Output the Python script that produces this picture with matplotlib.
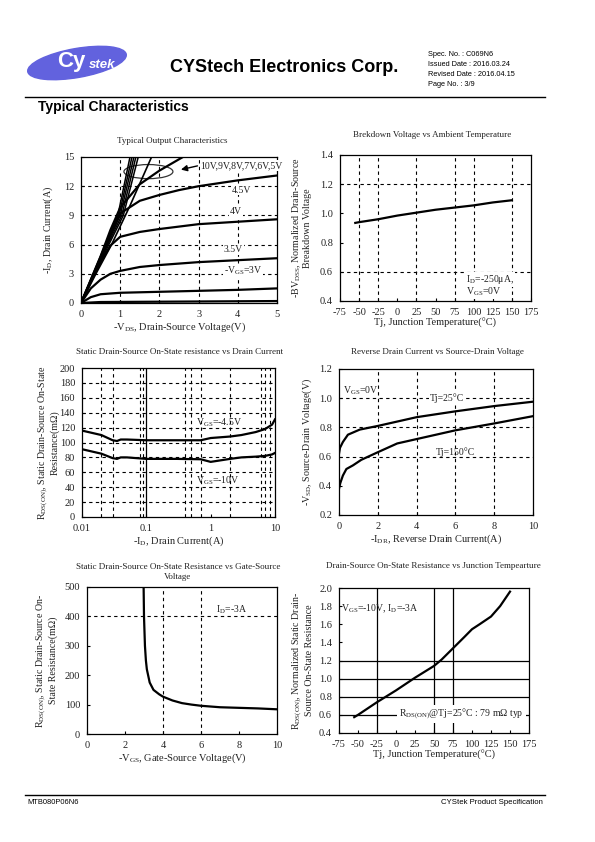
import matplotlib
matplotlib.use("Agg")
import matplotlib.pyplot as plt
from matplotlib.patches import Ellipse

# ---------------- data ----------------
# Typical Output Characteristics (-VDS vs -ID), one list per gate curve
out_fan_x = [[0, 0.31, 0.62, 0.94, 1.25],
             [0, 0.32, 0.64, 0.97, 1.30],
             [0, 0.33, 0.66, 1.00, 1.35],
             [0, 0.34, 0.68, 1.04, 1.40],
             [0, 0.35, 0.71, 1.08, 1.46]]
out_fan_y = [0, 3, 6, 9, 15]
out_6v_x = [0, 0.38, 0.78, 1.25, 1.80]
out_6v_y = [0, 3, 6, 10, 15]
out_5v_x = [0, 0.25, 0.5, 0.75, 1.0, 1.5, 2.0, 2.6]
out_5v_y = [0, 2.4, 4.8, 7.5, 9.8, 12.2, 13.6, 15.0]
out_45v_x = [0, 0.25, 0.5, 0.75, 1.0, 1.5, 2.0, 2.5, 3.0, 4.0, 5.0]
out_45v_y = [0, 2.3, 4.6, 7.1, 9.2, 10.5, 11.1, 11.6, 12.0, 12.6, 13.1]
out_4v_x = [0, 0.25, 0.5, 0.75, 1.0, 1.5, 2.0, 3.0, 4.0, 5.0]
out_4v_y = [0, 2.2, 4.2, 5.9, 6.8, 7.3, 7.6, 8.1, 8.35, 8.6]
out_35v_x = [0, 0.25, 0.5, 0.75, 1.0, 1.5, 2.0, 3.0, 4.0, 5.0]
out_35v_y = [0, 1.5, 2.4, 3.0, 3.3, 3.7, 3.9, 4.2, 4.4, 4.6]
out_3v_x = [0, 0.25, 0.5, 1.0, 2.0, 3.0, 4.0, 5.0]
out_3v_y = [0, 0.6, 0.9, 1.05, 1.15, 1.25, 1.35, 1.5]
out_25v_x = [0, 0.5, 5.0]
out_25v_y = [0, 0.1, 0.2]

# Breakdown voltage vs temperature
bv_t = [-55, -50, -25, 0, 25, 50, 75, 100, 125, 150]
bv_v = [0.935, 0.94, 0.96, 0.985, 1.005, 1.025, 1.04, 1.055, 1.075, 1.09]

# RDS(on) vs drain current
rid_i = [0.01, 0.02, 0.03, 0.035, 0.04, 0.05, 0.1, 0.3, 0.7, 1.0, 2.0, 3.0, 5.0, 7.0, 9.0, 10.0]
rid_45v = [116, 110, 103, 102, 104, 104, 103, 103, 103, 106, 108, 110, 114, 118, 124, 131]
rid_10v = [91, 85, 79, 78, 80, 80, 78, 78, 77.5, 74, 78, 80, 81, 82, 84, 86]
rid_vgrid = [0.02, 0.03, 0.08, 0.09, 0.4, 0.5, 0.7, 2, 6, 7, 8.5]

# Reverse drain current vs source-drain voltage
sd_i25 = [0, 0.05, 0.2, 0.46, 1.07, 2, 4, 6, 8, 10]
sd_v25 = [0.62, 0.66, 0.70, 0.75, 0.785, 0.81, 0.87, 0.91, 0.946, 0.976]
sd_i150 = [0, 0.07, 0.2, 0.38, 0.72, 1.15, 2, 3, 4, 6, 8, 10]
sd_v150 = [0.38, 0.42, 0.47, 0.515, 0.54, 0.578, 0.63, 0.69, 0.72, 0.78, 0.827, 0.877]

# RDS(on) vs gate voltage
rvg_v = [2.98, 3.0, 3.05, 3.1, 3.15, 3.3, 3.5, 3.8, 4.0, 4.5, 5.0, 5.5, 6.0, 7.0, 8.0, 9.0, 10.0]
rvg_r = [500, 400, 300, 250, 220, 175, 150, 135, 127, 114, 105, 100, 96, 91, 89, 87, 84]

# Normalized RDS(on) vs temperature
rt_t = [-55, -50, -25, 0, 25, 50, 60, 75, 90, 100, 110, 125, 137, 150]
rt_r = [0.575, 0.60, 0.74, 0.87, 1.01, 1.14, 1.21, 1.335, 1.46, 1.545, 1.60, 1.685, 1.80, 1.96]

W, H = 595, 842
SERIF = "Liberation Serif"
SANS = "Liberation Sans"
TXT = "#222222"

plt.rcParams.update({
    "font.family": SERIF,
    "mathtext.fontset": "custom",
    "mathtext.rm": SERIF,
    "mathtext.default": "regular",
    "axes.unicode_minus": False,
    "font.size": 7.5,
})

fig = plt.figure(figsize=(W / 100, H / 100), dpi=100)

# background axes in page pixel units for header / footer / titles
bg = fig.add_axes([0, 0, 1, 1])
bg.set_xlim(0, W)
bg.set_ylim(H, 0)
bg.axis("off")
bg.set_zorder(-1)

bg.add_patch(Ellipse((77, 63), 100, 29, angle=-10, color="#6262de"))
bg.text(57, 62, "Cy", color="white", fontsize=16, fontweight="bold", family=SANS,
        ha="left", va="center")
bg.text(89, 65, "stek", color="white", fontsize=9.5, fontweight="bold", style="italic",
        family=SANS, ha="left", va="center")
bg.text(170, 67, "CYStech Electronics Corp.", fontsize=13, fontweight="bold", family=SANS,
        ha="left", va="center")
for i, s in enumerate(["Spec. No. : C069N6", "Issued Date : 2016.03.24",
                       "Revised Date : 2016.04.15", "Page No. : 3/9"]):
    bg.text(428, 55 + i * 9.7, s, fontsize=5.3, family=SANS, ha="left", va="center")
bg.plot([25, 545], [97, 97], color="black", lw=1)
bg.text(38, 107, "Typical Characteristics", fontsize=10, fontweight="bold", family=SANS,
        ha="left", va="center")
bg.plot([25, 545], [795, 795], color="black", lw=1)
bg.text(27, 803, "MTB080P06N6", fontsize=5.4, family=SANS, ha="left", va="center")
bg.text(543, 803, "CYStek Product Specification", fontsize=5.6, family=SANS,
        ha="right", va="center")

titles = [
    (172, 141, "Typical Output Characteristics"),
    (432, 135, "Brekdown Voltage vs Ambient Temperature"),
    (180, 352, "Static Drain-Source On-State resistance vs Drain Current"),
    (437, 352, "Reverse Drain Current vs Source-Drain Voltage"),
    (178, 572, "Static Drain-Source On-State Resistance vs Gate-Source\nVoltage"),
    (433, 566, "Drain-Source On-State Resistance vs Junction Tempearture"),
]
for x, y, s in titles:
    bg.text(x, y, s, fontsize=6.5, color=TXT, ha="center", va="center", linespacing=1.4)


def page_axes(x0, y0, x1, y1):
    ax = fig.add_axes([x0 / W, 1 - y1 / H, (x1 - x0) / W, (y1 - y0) / H])
    for sp in ax.spines.values():
        sp.set_color("black")
        sp.set_linewidth(0.9)
    ax.tick_params(direction="in", length=2.5, width=0.8, labelsize=7.5,
                   labelcolor=TXT, pad=5)
    return ax


def ylab(ax, s, pad=3):
    ax.set_ylabel(s, fontsize=7.2, color=TXT, labelpad=pad, linespacing=1.0)


DASH = dict(color="black", lw=0.8, ls=(0, (3, 3)))
CURVE = dict(color="black", lw=1.6)
WBOX = dict(fc="white", ec="none", pad=0.6)

# ---- 1: Typical Output Characteristics ----
ax = page_axes(81, 157, 277, 303)
for xs in out_fan_x:
    ax.plot(xs, out_fan_y, color="black", lw=1.1)
ax.plot(out_6v_x, out_6v_y, color="black", lw=1.2)
for xs, ys in [(out_5v_x, out_5v_y), (out_45v_x, out_45v_y),
               (out_4v_x, out_4v_y), (out_35v_x, out_35v_y), (out_3v_x, out_3v_y),
               (out_25v_x, out_25v_y)]:
    ax.plot(xs, ys, **CURVE)
for v in [1, 2, 3, 4]:
    ax.axvline(v, **DASH)
for v in [3, 6, 9, 12]:
    ax.axhline(v, **DASH)
ax.add_patch(Ellipse((1.72, 13.5), 1.25, 1.45, fill=False, color="#333333", lw=0.9))
ax.annotate("", xy=(2.48, 13.64), xytext=(3.04, 14.15),
            arrowprops=dict(arrowstyle="-|>", color="black", lw=1.0, mutation_scale=9))
ax.text(3.05, 14.1, "10V,9V,8V,7V,6V,5V", fontsize=7, color=TXT, va="center", bbox=WBOX)
ax.text(3.85, 11.6, "4.5V", fontsize=7, color=TXT, va="center", bbox=WBOX)
ax.text(3.8, 9.4, "4V", fontsize=7, color=TXT, va="center", bbox=WBOX)
ax.text(3.64, 5.5, "3.5V", fontsize=7, color=TXT, va="center", bbox=WBOX)
ax.text(3.64, 3.3, "-V$_{GS}$=3V", fontsize=7, color=TXT, va="center", bbox=WBOX)
ax.set_xlim(0, 5)
ax.set_ylim(0, 15)
ax.set_xticks([0, 1, 2, 3, 4, 5])
ax.set_yticks([0, 3, 6, 9, 12, 15])
ax.set_xlabel("-V$_{DS}$, Drain-Source Voltage(V)", fontsize=7.5, color=TXT, labelpad=1)
ylab(ax, "-I$_{D}$, Drain Current(A)", pad=6)

# ---- 2: Breakdown voltage ----
ax = page_axes(340, 155, 531, 301)
ax.plot(bv_t, bv_v, **CURVE)
for v in [-50, -25, 25, 75, 100, 150]:
    ax.axvline(v, **DASH)
for v in [0.6, 1.2]:
    ax.axhline(v, **DASH)
ax.text(90, 0.545, "I$_{D}$=-250μA,", fontsize=7, color=TXT, va="center", bbox=WBOX)
ax.text(90, 0.465, "V$_{GS}$=0V", fontsize=7, color=TXT, va="center", bbox=WBOX)
ax.set_xlim(-75, 175)
ax.set_ylim(0.4, 1.4)
ax.set_xticks(range(-75, 176, 25))
ax.set_yticks([0.4, 0.6, 0.8, 1.0, 1.2, 1.4])
ax.set_yticklabels(["0.4", "0.6", "0.8", "1.0", "1.2", "1.4"])
ax.set_xlabel("Tj, Junction Temperature(°C)", fontsize=7.5, color=TXT, labelpad=1)
ylab(ax, "-BV$_{DSS}$, Normalized Drain-Source\nBreakdown Voltage", pad=6)

# ---- 3: RDS(on) vs drain current ----
ax = page_axes(82, 368, 275, 517)
ax.set_xscale("log")
ax.plot(rid_i, rid_45v, **CURVE)
ax.plot(rid_i, rid_10v, **CURVE)
for v in rid_vgrid:
    ax.axvline(v, **DASH)
ax.axvline(0.1, color="black", lw=0.9)
for v in range(20, 200, 20):
    ax.axhline(v, **DASH)
ax.text(0.6, 126, "V$_{GS}$=-4.5V", fontsize=7, color=TXT, va="center")
ax.text(0.6, 48, "V$_{GS}$=-10V", fontsize=7, color=TXT, va="center")
ax.set_xlim(0.01, 10)
ax.set_ylim(0, 200)
ax.set_xticks([0.01, 0.1, 1, 10])
ax.set_xticklabels(["0.01", "0.1", "1", "10"])
ax.minorticks_off()
ax.set_yticks(range(0, 201, 20))
ax.set_xlabel("-I$_{D}$, Drain Current(A)", fontsize=7.5, color=TXT, labelpad=1)
ylab(ax, "R$_{DS(ON)}$, Static Drain-Source On-State\nResistance(mΩ)", pad=0)

# ---- 4: Reverse drain current ----
ax = page_axes(339, 369, 533, 515)
ax.plot(sd_i25, sd_v25, **CURVE)
ax.plot(sd_i150, sd_v150, **CURVE)
for v in [2, 4, 6, 8]:
    ax.axvline(v, **DASH)
for v in [0.6, 0.8, 1.0]:
    ax.axhline(v, **DASH)
ax.text(0.2, 1.05, "V$_{GS}$=0V", fontsize=7, color=TXT, va="center")
ax.text(4.7, 1.0, "Tj=25°C", fontsize=7, color=TXT, va="center", bbox=WBOX)
ax.text(5.0, 0.63, "Tj=150°C", fontsize=7, color=TXT, va="center")
ax.set_xlim(0, 10)
ax.set_ylim(0.2, 1.2)
ax.set_xticks([0, 2, 4, 6, 8, 10])
ax.set_yticks([0.2, 0.4, 0.6, 0.8, 1.0, 1.2])
ax.set_yticklabels(["0.2", "0.4", "0.6", "0.8", "1.0", "1.2"])
ax.set_xlabel("-I$_{DR}$, Reverse Drain Current(A)", fontsize=7.5, color=TXT, labelpad=1)
ylab(ax, "-V$_{SD}$, Source-Drain Voltage(V)", pad=4)

# ---- 5: RDS(on) vs gate voltage ----
ax = page_axes(87, 587, 277, 734)
ax.plot(rvg_v, rvg_r, **CURVE)
for v in [4, 6]:
    ax.axvline(v, **DASH)
ax.axhline(400, **DASH)
ax.text(6.8, 422, "I$_{D}$=-3A", fontsize=7, color=TXT, va="center")
ax.set_xlim(0, 10)
ax.set_ylim(0, 500)
ax.set_xticks([0, 2, 4, 6, 8, 10])
ax.set_yticks(range(0, 501, 100))
ax.set_xlabel("-V$_{GS}$, Gate-Source Voltage(V)", fontsize=7.5, color=TXT, labelpad=1)
ylab(ax, "R$_{DS(ON)}$, Static Drain-Source On-\nState Resistance(mΩ)", pad=5)

# ---- 6: normalized RDS(on) vs temperature ----
ax = page_axes(339, 588, 529, 733)
for v in [-25, 50, 75]:
    ax.axvline(v, color="black", lw=0.9)
for v in [0.6, 0.8, 1.0, 1.2]:
    ax.axhline(v, color="black", lw=0.9)
ax.plot(rt_t, rt_r, **CURVE)
ax.text(-72, 1.77, "V$_{GS}$=-10V, I$_{D}$=-3A", fontsize=7, color=TXT, va="center")
ax.text(86, 0.614, "R$_{DS(ON)}$@Tj=25°C : 79 mΩ typ", fontsize=7, color=TXT,
        ha="center", va="center", bbox=dict(fc="white", ec="none", pad=1.5))
ax.set_xlim(-75, 175)
ax.set_ylim(0.4, 2.0)
ax.set_xticks(range(-75, 176, 25))
ax.set_yticks([0.4, 0.6, 0.8, 1.0, 1.2, 1.4, 1.6, 1.8, 2.0])
ax.set_yticklabels(["0.4", "0.6", "0.8", "1.0", "1.2", "1.4", "1.6", "1.8", "2.0"])
ax.set_xlabel("Tj, Junction Temperature(°C)", fontsize=7.5, color=TXT, labelpad=1)
ylab(ax, "R$_{DS(ON)}$, Normalized Static Drain-\nSource On-State Resistance", pad=4)

fig.savefig("out.png", dpi=100)
